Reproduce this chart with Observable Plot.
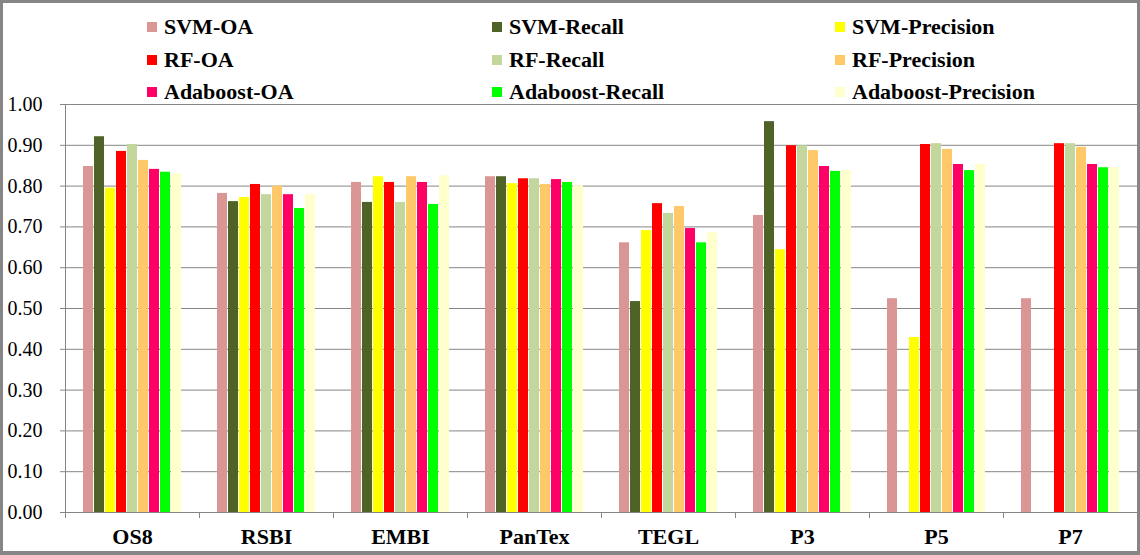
<!DOCTYPE html>
<html>
<head>
<meta charset="utf-8">
<script src="https://cdn.jsdelivr.net/npm/d3@7"></script>
<script src="https://cdn.jsdelivr.net/npm/@observablehq/plot@0.6"></script>
<style>
  html, body { margin: 0; padding: 0; background: #fff; }
  #wrap { position: relative; width: 1140px; height: 555px; overflow: hidden; background: #fff; }
  #border { position: absolute; left: 0; top: 0; width: 1140px; height: 555px; box-sizing: border-box;
            border: 3px solid #868686; border-bottom-width: 4px; pointer-events: none; }
  #legend { position: absolute; left: 147px; top: 11px; display: grid;
            grid-template-columns: 345px 343px auto; grid-auto-rows: 32.5px;
            font-family: "Liberation Serif", "Tinos", "Times New Roman", "DejaVu Serif", serif; font-weight: bold; font-size: 22px; color: #000; }
  .item { display: flex; align-items: center; white-space: nowrap; }
  .sw { width: 10px; height: 10px; margin-right: 7px; flex: none; }
</style>
</head>
<body>
<div id="wrap">
  <div id="chart"></div>
  <div id="legend"></div>
  <div id="border"></div>
</div>
<script>
const categories = ["OS8", "RSBI", "EMBI", "PanTex", "TEGL", "P3", "P5", "P7"];
const series = ["SVM-OA", "SVM-Recall", "SVM-Precision", "RF-OA", "RF-Recall", "RF-Precision",
                "Adaboost-OA", "Adaboost-Recall", "Adaboost-Precision"];
const colors = ["#D99694", "#4F6228", "#FFFF00", "#FF0000", "#C3D69B", "#FFC869",
                "#FF0066", "#00FF00", "#FFFFCC"];

const svmOA        = [0.848, 0.782, 0.809, 0.823, 0.661, 0.728, 0.524, 0.524];
const svmRecall    = [0.921, 0.762, 0.760, 0.823, 0.517, 0.958, null, null];
const svmPrecision = [0.795, 0.772, 0.823, 0.806, 0.691, 0.644, 0.429, null];
const rfOA         = [0.885, 0.804, 0.809, 0.818, 0.757, 0.899, 0.902, 0.904];
const rfRecall     = [0.902, 0.779, 0.760, 0.818, 0.733, 0.899, 0.904, 0.904];
const rfPrecision  = [0.863, 0.800, 0.823, 0.804, 0.750, 0.887, 0.890, 0.895];
const adaOA        = [0.841, 0.779, 0.809, 0.816, 0.696, 0.848, 0.853, 0.853];
const adaRecall    = [0.834, 0.745, 0.755, 0.809, 0.661, 0.836, 0.838, 0.845];
const adaPrecision = [0.830, 0.779, 0.825, 0.801, 0.686, 0.838, 0.853, 0.845];

const yTicks = [0, 0.1, 0.2, 0.3, 0.4, 0.5, 0.6, 0.7, 0.8, 0.9, 1.0];

const seriesValues = [svmOA, svmRecall, svmPrecision, rfOA, rfRecall, rfPrecision, adaOA, adaRecall, adaPrecision];
const data = [];
categories.forEach((c, i) => {
  series.forEach((s, j) => {
    const v = seriesValues[j][i];
    if (v != null) data.push({category: c, series: s, value: v});
  });
});

const serifFont = "'Liberation Serif', Tinos, 'Times New Roman', 'DejaVu Serif', serif";

const chart = Plot.plot({
  width: 1140,
  height: 555,
  marginTop: 104,
  marginBottom: 43,
  marginLeft: 63,
  marginRight: 2,
  style: {fontFamily: serifFont, fontSize: "20px", color: "#000", background: "#fff"},
  fx: {domain: categories, padding: 0, label: null},
  x: {domain: series, paddingInner: 0.12, paddingOuter: 1.58, axis: null},
  y: {domain: [0, 1], label: null},
  color: {domain: series, range: colors},
  marks: [
    Plot.ruleY(yTicks, {stroke: "#868686", strokeWidth: 1}),
    Plot.barY(data, {fx: "category", x: "series", y: "value", fill: "series"}),
    Plot.axisY(yTicks, {tickFormat: d3.format(".2f"), tickSize: 5, tickPadding: 18, fontSize: 20, stroke: "#868686", label: null}),
    Plot.axisFx({anchor: "bottom", tickSize: 0, tickPadding: 16, fontSize: 22, fontWeight: "bold", label: null})
  ]
});
document.getElementById("chart").appendChild(chart);

// Axis line and category boundary ticks from the library's scales
const fxS = chart.scale("fx");
const yS = chart.scale("y");
const fxScale = fxS.apply ? fxS.apply : d3.scaleBand(fxS.domain, fxS.range);
const yScale = yS.apply ? yS.apply : d3.scaleLinear(yS.domain, yS.range);
const y0 = yScale(0), y1 = yScale(1);
const edges = categories.map(c => fxScale(c));
edges.push(fxScale(categories[categories.length - 1]) + fxS.bandwidth);
const svg = d3.select(chart);
const g = svg.append("g").attr("stroke", "#868686").attr("stroke-width", 1).attr("shape-rendering", "crispEdges");
g.append("line").attr("x1", edges[0] + 0.5).attr("x2", edges[0] + 0.5).attr("y1", y1).attr("y2", y0);
g.selectAll("line.t").data(edges).join("line").attr("class", "t")
  .attr("x1", d => Math.round(d) + 0.5).attr("x2", d => Math.round(d) + 0.5)
  .attr("y1", y0).attr("y2", y0 + 6);

// Legend
const legend = d3.select("#legend");
series.forEach((s, i) => {
  const it = legend.append("div").attr("class", "item");
  it.append("div").attr("class", "sw").style("background", colors[i]);
  it.append("span").text(s);
});
</script>
</body>
</html>
